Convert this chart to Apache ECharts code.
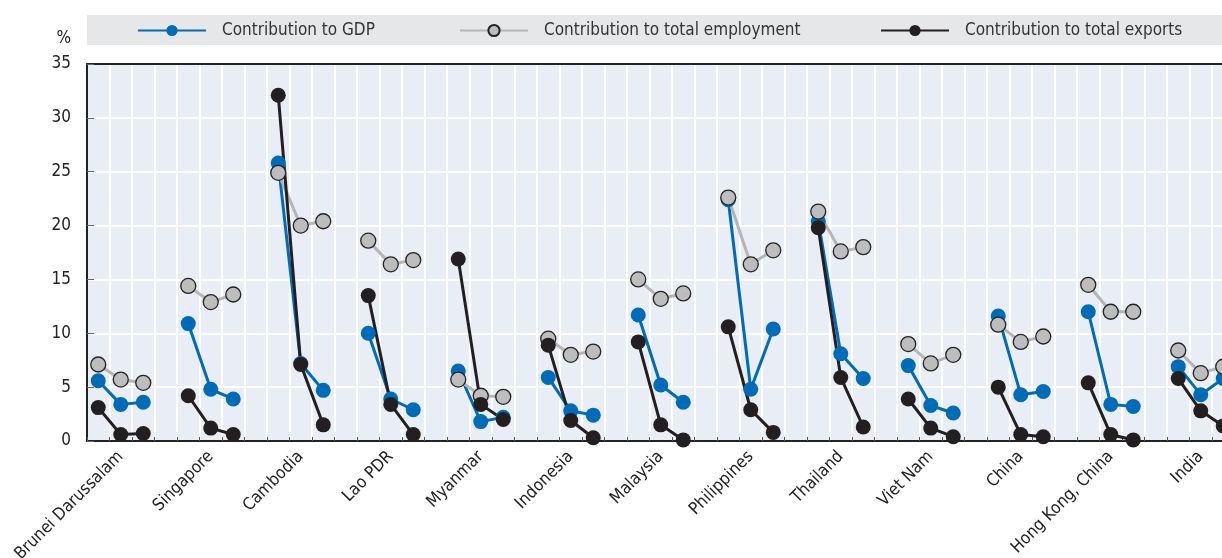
<!DOCTYPE html>
<html>
<head>
<meta charset="utf-8">
<script src="https://cdn.jsdelivr.net/npm/echarts@6/dist/echarts.min.js"></script>
<style>
html,body{margin:0;padding:0;background:#fff;}
#chart{width:1222px;height:558px;}
</style>
</head>
<body>
<div id="chart"></div>
<script>
const countries = ['Brunei Darussalam','Singapore','Cambodia','Lao PDR','Myanmar','Indonesia','Malaysia','Philippines','Thailand','Viet Nam','China','Hong Kong, China','India'];
const gdp = [
  [5.6,3.4,3.6],[10.9,4.8,3.9],[25.8,7.2,4.7],[10.0,3.9,2.9],[6.5,1.8,2.2],[5.9,2.8,2.4],
  [11.7,5.2,3.6],[22.4,4.8,10.4],[20.4,8.1,5.8],[7.0,3.3,2.6],[11.6,4.3,4.6],[12.0,3.4,3.2],[6.9,4.3,5.8]
];
const employment = [
  [7.1,5.7,5.4],[14.4,12.9,13.6],[24.9,20.0,20.4],[18.6,16.4,16.8],[5.7,4.2,4.1],[9.5,8.0,8.3],
  [15.0,13.2,13.7],[22.6,16.4,17.7],[21.3,17.6,18.0],[9.0,7.2,8.0],[10.8,9.2,9.7],[14.5,12.0,12.0],[8.4,6.3,6.9]
];
const exportsData = [
  [3.1,0.6,0.7],[4.2,1.2,0.6],[32.1,7.1,1.5],[13.5,3.4,0.6],[16.9,3.4,2.0],[8.9,1.9,0.3],
  [9.2,1.5,0.1],[10.6,2.9,0.8],[19.8,5.9,1.3],[3.9,1.2,0.4],[5.0,0.6,0.4],[5.4,0.6,0.1],[5.8,2.8,1.4]
];
const seriesNames = ['Contribution to GDP','Contribution to total employment','Contribution to total exports'];
const yTicks = [0,5,10,15,20,25,30,35];

const FONT = '"DejaVu Sans Condensed","Liberation Sans Narrow",sans-serif';
const FS = 17;
const slots = [];
countries.forEach(c => { for (let k = 0; k < 4; k++) slots.push(c + '#' + k); });
function flat(arr){ const out=[]; arr.forEach(g=>{ out.push(g[0],g[1],g[2],null); }); return out; }

const chart = echarts.init(document.getElementById('chart'));
const legendCommon = {
  top: 22, padding: 0, itemWidth: 68, itemHeight: 14, selectedMode: false,
  textStyle: {fontFamily: FONT, fontSize: FS, color: '#333', padding: [0,0,0,11]}
};
chart.setOption({
  animation: false,
  textStyle: {fontFamily: FONT},
  graphic: [{type:'rect', shape:{x:87, y:15, width:1200, height:30}, style:{fill:'#e6e7e8'}, z:-1}],
  legend: [
    Object.assign({left: 137, data: [seriesNames[0]]}, legendCommon),
    Object.assign({left: 459, data: [seriesNames[1]]}, legendCommon),
    Object.assign({left: 880, data: [seriesNames[2]]}, legendCommon)
  ],
  grid: {left: 87, top: 64, bottom: 117, right: -35, containLabel: false, outerBoundsMode: 'none',
         show: true, backgroundColor: '#e9eef6', borderWidth: 0},
  xAxis: [{
    type: 'category', data: slots, boundaryGap: true,
    axisLine: {lineStyle: {color: '#222', width: 2}},
    axisTick: {show: true, inside: true, length: 4, interval: 0, lineStyle: {color: '#555'}},
    splitLine: {show: true, interval: 0, lineStyle: {color: '#fff', width: 2}},
    axisLabel: {
      interval: (i) => i % 4 === 1, rotate: 45, margin: 13,
      fontSize: FS, color: '#222', fontFamily: FONT,
      formatter: (v) => v.split('#')[0]
    }
  }, {
    type: 'category', data: slots, position: 'top', boundaryGap: true,
    axisLine: {show: true, lineStyle: {color: '#222', width: 2}},
    axisTick: {show: false}, axisLabel: {show: false}, splitLine: {show: false}
  }],
  yAxis: {
    type: 'value', min: 0, max: 35, interval: 5,
    name: '%', nameLocation: 'end', nameGap: 25,
    nameTextStyle: {align: 'right', verticalAlign: 'middle', padding: [0,16,0,0], fontSize: FS, color: '#222', fontFamily: FONT},
    axisLine: {show: true, lineStyle: {color: '#222', width: 2}},
    axisTick: {show: true, inside: true, length: 7, lineStyle: {color: '#666'}},
    splitLine: {show: true, lineStyle: {color: '#fff', width: 2}},
    axisLabel: {margin: 16, fontSize: FS, color: '#222', fontFamily: FONT, formatter: (v) => yTicks.includes(v) ? String(v) : ''}
  },
  series: [
    {name: seriesNames[0], type: 'line', data: flat(gdp), symbol: 'circle', symbolSize: 15, showAllSymbol: true, clip: false,
     lineStyle: {color: '#006bb6', width: 3}, itemStyle: {color: '#006bb6'}},
    {name: seriesNames[1], type: 'line', data: flat(employment), symbol: 'circle', symbolSize: 15, showAllSymbol: true, clip: false,
     lineStyle: {color: '#b5b5b5', width: 3}, itemStyle: {color: '#bdbdbd', borderColor: '#222', borderWidth: 1.3}},
    {name: seriesNames[2], type: 'line', data: flat(exportsData), symbol: 'circle', symbolSize: 15, showAllSymbol: true, clip: false,
     lineStyle: {color: '#231f20', width: 3}, itemStyle: {color: '#231f20'}}
  ]
});
</script>
</body>
</html>
